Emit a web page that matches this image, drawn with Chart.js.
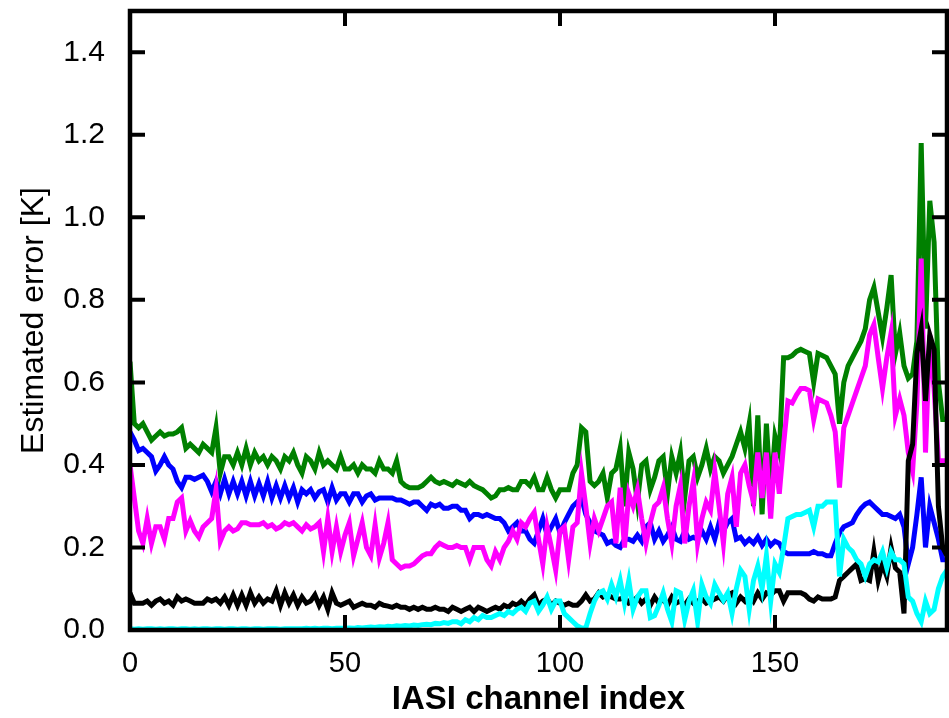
<!DOCTYPE html>
<html>
<head>
<meta charset="utf-8">
<script src="https://cdn.jsdelivr.net/npm/chart.js@4"></script>
<style>
  html, body { margin: 0; padding: 0; background: #fff; }
  #errorChart { display: block; }
</style>
</head>
<body>
<canvas id="errorChart" width="949" height="718"></canvas>
<script>
// estimated error per IASI channel
const green = [
    0.65, 0.50, 0.49, 0.50, 0.48, 0.46, 0.47, 0.48, 0.47, 0.475,
    0.475, 0.48, 0.49, 0.44, 0.45, 0.44, 0.43, 0.45, 0.44, 0.43,
    0.49, 0.38, 0.42, 0.42, 0.40, 0.43, 0.40, 0.44, 0.40, 0.43,
    0.41, 0.42, 0.40, 0.42, 0.41, 0.39, 0.42, 0.41, 0.43, 0.40,
    0.38, 0.42, 0.41, 0.39, 0.43, 0.40, 0.41, 0.40, 0.39, 0.42,
    0.39, 0.39, 0.40, 0.38, 0.40, 0.39, 0.39, 0.38, 0.41, 0.39,
    0.39, 0.38, 0.41, 0.36, 0.35, 0.345, 0.345, 0.345, 0.35, 0.36,
    0.37, 0.36, 0.355, 0.36, 0.355, 0.35, 0.36, 0.355, 0.35, 0.36,
    0.35, 0.345, 0.34, 0.33, 0.32, 0.325, 0.34, 0.34, 0.345, 0.34,
    0.34, 0.36, 0.36, 0.35, 0.37, 0.34, 0.34, 0.37, 0.34, 0.32,
    0.34, 0.34, 0.34, 0.38, 0.40, 0.49, 0.48, 0.36, 0.35, 0.36,
    0.38, 0.32, 0.38, 0.39, 0.44, 0.30, 0.43, 0.39, 0.31, 0.40,
    0.41, 0.34, 0.37, 0.41, 0.42, 0.33, 0.42, 0.38, 0.43, 0.32,
    0.41, 0.42, 0.37, 0.40, 0.44, 0.39, 0.42, 0.41, 0.38, 0.40,
    0.42, 0.45, 0.48, 0.44, 0.50, 0.30, 0.52, 0.28, 0.50, 0.33,
    0.47, 0.43, 0.66, 0.66, 0.665, 0.675, 0.68, 0.675, 0.67, 0.60,
    0.67, 0.665, 0.66, 0.64, 0.62, 0.50, 0.60, 0.64, 0.66, 0.68,
    0.70, 0.73, 0.80, 0.83, 0.77, 0.71, 0.78, 0.86, 0.67, 0.72,
    0.64, 0.61, 0.62, 0.70, 1.18, 0.73, 1.04, 0.94, 0.60, 0.51,
    0.51
];
const blue = [
    0.48, 0.46, 0.435, 0.44, 0.43, 0.42, 0.385, 0.40, 0.42, 0.40,
    0.39, 0.36, 0.345, 0.37, 0.37, 0.365, 0.37, 0.375, 0.36, 0.335,
    0.36, 0.33, 0.365, 0.33, 0.36, 0.33, 0.36, 0.325, 0.36, 0.325,
    0.355, 0.325, 0.36, 0.32, 0.35, 0.32, 0.35, 0.32, 0.345, 0.31,
    0.34, 0.33, 0.34, 0.32, 0.335, 0.34, 0.31, 0.345, 0.315, 0.33,
    0.33, 0.31, 0.33, 0.33, 0.31, 0.325, 0.33, 0.315, 0.32, 0.32,
    0.32, 0.32, 0.315, 0.315, 0.31, 0.305, 0.31, 0.31, 0.30, 0.29,
    0.305, 0.30, 0.305, 0.295, 0.295, 0.30, 0.30, 0.29, 0.29, 0.27,
    0.28, 0.28, 0.275, 0.28, 0.275, 0.27, 0.27, 0.26, 0.24, 0.25,
    0.26, 0.24, 0.24, 0.22, 0.21, 0.24, 0.27, 0.23, 0.25, 0.27,
    0.235, 0.26, 0.28, 0.30, 0.31, 0.32, 0.28, 0.26, 0.24, 0.235,
    0.23, 0.21, 0.215, 0.205, 0.20, 0.22, 0.22, 0.215, 0.23, 0.215,
    0.25, 0.26, 0.22, 0.24, 0.215, 0.23, 0.25, 0.22, 0.215, 0.24,
    0.22, 0.225, 0.22, 0.24, 0.22, 0.25, 0.22, 0.26, 0.24, 0.26,
    0.27, 0.22, 0.225, 0.21, 0.22, 0.21, 0.225, 0.205, 0.22, 0.205,
    0.215, 0.21, 0.19, 0.185, 0.185, 0.185, 0.185, 0.185, 0.185, 0.19,
    0.185, 0.185, 0.18, 0.18, 0.21, 0.235, 0.25, 0.255, 0.26, 0.28,
    0.295, 0.305, 0.31, 0.30, 0.29, 0.28, 0.28, 0.275, 0.27, 0.28,
    0.25, 0.16, 0.20, 0.28, 0.37, 0.20, 0.30, 0.26, 0.22, 0.17,
    0.17
];
const magenta = [
    0.40, 0.32, 0.24, 0.21, 0.27, 0.21, 0.25, 0.25, 0.22, 0.27,
    0.27, 0.31, 0.32, 0.24, 0.265, 0.24, 0.225, 0.25, 0.26, 0.27,
    0.34, 0.215, 0.24, 0.25, 0.24, 0.245, 0.26, 0.26, 0.255, 0.255,
    0.255, 0.26, 0.25, 0.255, 0.245, 0.25, 0.26, 0.255, 0.26, 0.25,
    0.24, 0.255, 0.245, 0.25, 0.26, 0.19, 0.27, 0.19, 0.25, 0.19,
    0.23, 0.26, 0.18, 0.22, 0.26, 0.20, 0.18, 0.255, 0.175, 0.21,
    0.26, 0.17, 0.16, 0.15, 0.155, 0.155, 0.16, 0.17, 0.18, 0.185,
    0.185, 0.20, 0.21, 0.205, 0.20, 0.20, 0.205, 0.20, 0.20, 0.17,
    0.20, 0.20, 0.20, 0.17, 0.155, 0.19, 0.17, 0.20, 0.215, 0.24,
    0.22, 0.26, 0.25, 0.27, 0.285, 0.22, 0.16, 0.25, 0.20, 0.145,
    0.24, 0.25, 0.17, 0.25, 0.26, 0.38, 0.30, 0.21, 0.27, 0.24,
    0.27, 0.30, 0.31, 0.21, 0.345, 0.20, 0.33, 0.30, 0.34, 0.27,
    0.21, 0.26, 0.30, 0.31, 0.345, 0.27, 0.21, 0.30, 0.35, 0.21,
    0.30, 0.36, 0.21, 0.27, 0.31, 0.29, 0.385, 0.30, 0.21, 0.33,
    0.37, 0.25, 0.38, 0.40, 0.35, 0.31, 0.43, 0.32, 0.43, 0.27,
    0.43, 0.33, 0.45, 0.555, 0.55, 0.57, 0.585, 0.585, 0.58, 0.51,
    0.56, 0.555, 0.55, 0.52, 0.48, 0.345, 0.49, 0.52, 0.55, 0.58,
    0.61, 0.64, 0.715, 0.74, 0.66, 0.585, 0.66, 0.72, 0.52, 0.56,
    0.52, 0.43, 0.385, 0.55, 0.90, 0.43, 0.715, 0.585, 0.41, 0.41,
    0.41
];
const black = [
    0.09, 0.065, 0.065, 0.065, 0.07, 0.06, 0.07, 0.075, 0.065, 0.07,
    0.06, 0.08, 0.07, 0.075, 0.07, 0.065, 0.065, 0.065, 0.075, 0.07,
    0.075, 0.065, 0.08, 0.06, 0.085, 0.06, 0.085, 0.06, 0.09, 0.065,
    0.08, 0.065, 0.075, 0.07, 0.095, 0.06, 0.09, 0.065, 0.085, 0.06,
    0.08, 0.065, 0.07, 0.085, 0.06, 0.08, 0.05, 0.09, 0.065, 0.06,
    0.065, 0.07, 0.055, 0.06, 0.065, 0.06, 0.06, 0.055, 0.065, 0.06,
    0.058, 0.055, 0.06, 0.055, 0.055, 0.05, 0.055, 0.05, 0.055, 0.05,
    0.05, 0.055, 0.05, 0.05, 0.045, 0.055, 0.05, 0.045, 0.05, 0.055,
    0.045, 0.055, 0.05, 0.045, 0.05, 0.055, 0.05, 0.06, 0.055, 0.065,
    0.06, 0.07, 0.06, 0.075, 0.085, 0.06, 0.07, 0.075, 0.06, 0.07,
    0.065, 0.06, 0.065, 0.06, 0.06, 0.07, 0.085, 0.07, 0.075, 0.09,
    0.08, 0.085, 0.08, 0.075, 0.075, 0.08, 0.065, 0.07, 0.08, 0.065,
    0.075, 0.06, 0.08, 0.065, 0.075, 0.06, 0.08, 0.065, 0.07, 0.06,
    0.075, 0.065, 0.07, 0.075, 0.065, 0.07, 0.075, 0.08, 0.07, 0.085,
    0.09, 0.065, 0.08, 0.07, 0.085, 0.07, 0.09, 0.075, 0.09, 0.085,
    0.095, 0.095, 0.07, 0.09, 0.09, 0.09, 0.09, 0.085, 0.075, 0.07,
    0.08, 0.075, 0.075, 0.075, 0.08, 0.12, 0.13, 0.14, 0.15, 0.16,
    0.12, 0.125, 0.12, 0.19, 0.12, 0.16, 0.13, 0.20, 0.15, 0.14,
    0.04, 0.41, 0.45, 0.67, 0.73, 0.555, 0.715, 0.68, 0.30, 0.20,
    0.18
];
const cyan = [
    0.003, 0.002, 0.003, 0.002, 0.003, 0.003, 0.002, 0.003, 0.002, 0.003,
    0.003, 0.002, 0.003, 0.003, 0.002, 0.003, 0.002, 0.003, 0.003, 0.002,
    0.003, 0.003, 0.002, 0.003, 0.003, 0.002, 0.003, 0.003, 0.002, 0.003,
    0.003, 0.002, 0.003, 0.003, 0.003, 0.002, 0.003, 0.003, 0.003, 0.003,
    0.003, 0.004, 0.003, 0.004, 0.003, 0.004, 0.004, 0.003, 0.004, 0.004,
    0.004, 0.005, 0.004, 0.006, 0.005, 0.006, 0.007, 0.006, 0.008, 0.007,
    0.009, 0.008, 0.010, 0.009, 0.011, 0.010, 0.012, 0.011, 0.013, 0.014,
    0.013, 0.016, 0.015, 0.018, 0.016, 0.02, 0.02, 0.015, 0.025, 0.02,
    0.03, 0.025, 0.035, 0.03, 0.03, 0.035, 0.04, 0.035, 0.045, 0.04,
    0.05, 0.055, 0.045, 0.065, 0.07, 0.045, 0.06, 0.08, 0.05, 0.07,
    0.07, 0.04, 0.03, 0.02, 0.01, 0.005, 0.005, 0.04, 0.07, 0.09,
    0.095, 0.075, 0.11, 0.08, 0.12, 0.065, 0.12, 0.05, 0.08, 0.095,
    0.095, 0.03, 0.035, 0.06, 0.09, 0.05, 0.02, 0.095, 0.09, 0.025,
    0.07, 0.096, 0.02, 0.11, 0.08, 0.064, 0.11, 0.09, 0.072, 0.09,
    0.04, 0.10, 0.145, 0.13, 0.05, 0.12, 0.155, 0.10, 0.18, 0.07,
    0.16, 0.14, 0.20, 0.27, 0.275, 0.28, 0.28, 0.285, 0.29, 0.25,
    0.30, 0.30, 0.31, 0.31, 0.31, 0.13, 0.22, 0.20, 0.19, 0.17,
    0.16, 0.13, 0.16, 0.17, 0.165, 0.19, 0.15, 0.19, 0.17, 0.17,
    0.16, 0.08, 0.07, 0.04, 0.02, 0.07, 0.04, 0.05, 0.10, 0.13,
    0.145
];

const xTicks = [0, 50, 100, 150];
const yTicks = [0, 0.2, 0.4, 0.6, 0.8, 1.0, 1.2, 1.4];

// channel index is just the position in the arrays
const toPoints = (vals) => vals.map((v, i) => ({ x: i, y: v }));

const line = (vals, color) => ({
    data: toPoints(vals),
    borderColor: color,
    backgroundColor: color,
    borderWidth: 5,
    pointRadius: 0,
    tension: 0,
    fill: false
});

// box around the plot with inward ticks on all four sides
const frame = {
    id: 'frame',
    afterDatasetsDraw(chart) {
        const { ctx, chartArea: a, scales: { x, y } } = chart;
        const len = 15;
        ctx.save();
        ctx.strokeStyle = '#000';
        ctx.lineWidth = 4.5;
        ctx.strokeRect(a.left, a.top, a.right - a.left, a.bottom - a.top);
        ctx.lineWidth = 4;
        ctx.beginPath();
        yTicks.forEach(v => {
            const p = y.getPixelForValue(v);
            ctx.moveTo(a.left, p); ctx.lineTo(a.left + len, p);
            ctx.moveTo(a.right, p); ctx.lineTo(a.right - len, p);
        });
        xTicks.forEach(v => {
            const p = x.getPixelForValue(v);
            ctx.moveTo(p, a.bottom); ctx.lineTo(p, a.bottom - len);
            ctx.moveTo(p, a.top); ctx.lineTo(p, a.top + len);
        });
        ctx.stroke();
        ctx.restore();
    }
};

const config = {
    type: 'line',
    data: {
        datasets: [
            line(cyan, '#00ffff'),
            line(black, '#000000'),
            line(magenta, '#ff00ff'),
            line(blue, '#0000ff'),
            line(green, '#008000')
        ]
    },
    options: {
        responsive: false,
        animation: false,
        layout: { padding: { top: 11, right: 2, left: 0, bottom: 0 } },
        plugins: {
            legend: { display: false },
            tooltip: { enabled: false }
        },
        scales: {
            x: {
                type: 'linear',
                min: 0,
                max: 190,
                afterBuildTicks: (scale) => { scale.ticks = xTicks.map(v => ({ value: v })); },
                afterFit: (scale) => {
                    scale.height = 88;
                    scale.paddingLeft = 0;
                    scale.paddingRight = 0;
                },
                grid: { display: false },
                border: { display: false },
                ticks: {
                    autoSkip: false,
                    maxRotation: 0,
                    padding: 9,
                    color: '#000',
                    font: { family: 'Liberation Sans', size: 29 }
                },
                title: {
                    display: true,
                    text: 'IASI channel index',
                    color: '#000',
                    padding: { bottom: 2 },
                    font: { family: 'Liberation Sans', size: 33, weight: 'bold', lineHeight: 1 }
                }
            },
            y: {
                min: 0,
                max: 1.5,
                afterBuildTicks: (scale) => { scale.ticks = yTicks.map(v => ({ value: v })); },
                afterFit: (scale) => {
                    scale.width = 130;
                    scale.paddingTop = 0;
                    scale.paddingBottom = 0;
                },
                grid: { display: false },
                border: { display: false },
                ticks: {
                    padding: 17,
                    color: '#000',
                    font: { family: 'Liberation Sans', size: 30 },
                    callback: (v) => v.toFixed(1)
                },
                title: {
                    display: true,
                    text: 'Estimated error [K]',
                    color: '#000',
                    padding: { top: 18 },
                    font: { family: 'Liberation Sans', size: 32, lineHeight: 1 }
                }
            }
        }
    },
    plugins: [frame]
};

const myChart = new Chart(
    document.getElementById('errorChart').getContext('2d'),
    config
);
</script>
</body>
</html>
